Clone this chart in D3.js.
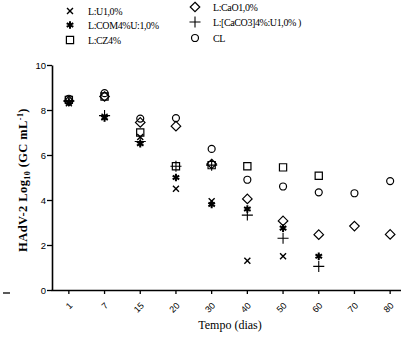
<!DOCTYPE html>
<html>
<head>
<meta charset="utf-8">
<script src="https://cdn.jsdelivr.net/npm/d3@7"></script>
<style>
  body { margin: 0; background: #fff; }
  svg { display: block; }
</style>
</head>
<body>
<div id="chart"></div>
<script>
// categories (days) and series values
const days = ["1", "7", "15", "20", "30", "40", "50", "60", "70", "80"];
const yTicks = [0, 2, 4, 6, 8, 10];

const serU = [8.3, 7.7, 6.8, 4.5, 3.95, 1.3, 1.5, null, null, null];
const serCOM = [8.35, 7.65, 6.5, 5.0, 3.8, 3.6, 2.75, 1.5, null, null];
const serCZ = [8.45, 8.6, 7.0, 5.5, 5.55, 5.5, 5.45, 5.08, null, null];
const serCaO = [8.4, 8.6, 7.45, 7.28, 5.6, 4.05, 3.07, 2.46, 2.84, 2.47];
const serCaCO3 = [8.4, 7.75, 6.6, 5.5, 5.55, 3.33, 2.3, 1.05, null, null];
const serCL = [8.5, 8.75, 7.62, 7.64, 6.27, 4.9, 4.6, 4.34, 4.3, 4.84];

const seriesNames = ["L:U1,0%", "L:COM4%U:1,0%", "L:CZ4%", "L:CaO1,0%", "L:[CaCO3]4%:U1,0% )", "CL"];

const width = 401, height = 339;

const svg = d3.select("#chart").append("svg")
  .attr("width", width)
  .attr("height", height);

const x = d3.scaleBand().domain(days).range([51, 408]);
const y = d3.scaleLinear().domain([0, 10]).range([290, 65]);

// marker shapes
const sym = {
  U: d3.symbol().type(d3.symbolX).size(25)(),
  COM: d3.symbol().type(d3.symbolAsterisk).size(40)(),
  CZ: d3.symbol().type(d3.symbolSquare).size(52)(),
  CaO: d3.symbol().type(d3.symbolDiamond2).size(58)(),
  CaCO3: d3.symbol().type(d3.symbolPlus).size(42)(),
  CL: d3.symbol().type(d3.symbolCircle).size(38)()
};

const series = [
  { key: "U", name: seriesNames[0], values: serU, sw: 1.4 },
  { key: "COM", name: seriesNames[1], values: serCOM, sw: 2 },
  { key: "CZ", name: seriesNames[2], values: serCZ, sw: 1.2 },
  { key: "CaO", name: seriesNames[3], values: serCaO, sw: 1.2 },
  { key: "CaCO3", name: seriesNames[4], values: serCaCO3, sw: 1.1 },
  { key: "CL", name: seriesNames[5], values: serCL, sw: 1.2 }
];

// axes
const xAxis = svg.append("g")
  .attr("transform", `translate(0,${y(0)})`)
  .call(d3.axisBottom(x).tickSize(4).tickSizeOuter(0));
xAxis.select(".domain").attr("stroke-width", 1.6);
xAxis.selectAll(".tick line").attr("stroke-width", 1.3);
xAxis.selectAll("text")
  .attr("font-family", "Liberation Sans, Arial, sans-serif")
  .attr("font-size", 9)
  .attr("fill", "#000")
  .attr("text-anchor", "end")
  .attr("y", 0)
  .attr("dy", "0.35em")
  .attr("transform", "translate(2,14) rotate(-45)");

const yAxis = svg.append("g")
  .attr("transform", `translate(52,0)`)
  .call(d3.axisLeft(y).tickValues(yTicks).tickSize(5).tickSizeOuter(0));
yAxis.select(".domain").attr("stroke-width", 1.6);
yAxis.selectAll(".tick line").attr("stroke-width", 1.3);
yAxis.selectAll("text")
  .attr("font-family", "Liberation Sans, Arial, sans-serif")
  .attr("font-size", 9.5)
  .attr("fill", "#000")
  .attr("x", -6);

// points
series.forEach(s => {
  svg.append("g")
    .selectAll("path")
    .data(s.values.map((v, i) => ({ day: days[i], v })).filter(d => d.v != null))
    .join("path")
    .attr("d", sym[s.key])
    .attr("transform", d => `translate(${x(d.day) + x.bandwidth() / 2},${y(d.v)})`)
    .attr("fill", "none")
    .attr("stroke", "#000")
    .attr("stroke-width", s.sw);
});

// legend
const legendPos = [
  [70, 11], [70, 25], [70, 40],
  [195, 7], [195, 22], [195, 38]
];
const legend = svg.append("g");
series.forEach((s, i) => {
  const [lx, ly] = legendPos[i];
  legend.append("path")
    .attr("d", sym[s.key])
    .attr("transform", `translate(${lx},${ly})`)
    .attr("fill", "none")
    .attr("stroke", "#000")
    .attr("stroke-width", s.sw);
  legend.append("text")
    .attr("x", lx + 18)
    .attr("y", ly + 3.5)
    .attr("font-family", "Liberation Serif, Times New Roman, serif")
    .attr("font-size", 10)
    .attr("letter-spacing", -0.4)
    .text(s.name);
});

// axis titles
svg.append("text")
  .attr("x", 230)
  .attr("y", 329)
  .attr("text-anchor", "middle")
  .attr("font-family", "Liberation Serif, Times New Roman, serif")
  .attr("font-size", 12)
  .text("Tempo (dias)");

const yTitle = svg.append("text")
  .attr("transform", "translate(27,180) rotate(-90)")
  .attr("text-anchor", "middle")
  .attr("font-family", "Liberation Serif, Times New Roman, serif")
  .attr("font-weight", "bold")
  .attr("font-size", 12.5)
  .attr("letter-spacing", 0.4);
yTitle.append("tspan").text("HAdV-2  Log");
yTitle.append("tspan").attr("font-size", 8).attr("dy", 3).text("10");
yTitle.append("tspan").attr("dy", -3).text(" (GC mL");
yTitle.append("tspan").attr("font-size", 8).attr("dy", -4).text("-1");
yTitle.append("tspan").attr("dy", 4).text(")");

// small stray dash at lower left
svg.append("line")
  .attr("x1", 3).attr("x2", 10)
  .attr("y1", 293).attr("y2", 293)
  .attr("stroke", "#000")
  .attr("stroke-width", 1.3);
</script>
</body>
</html>
